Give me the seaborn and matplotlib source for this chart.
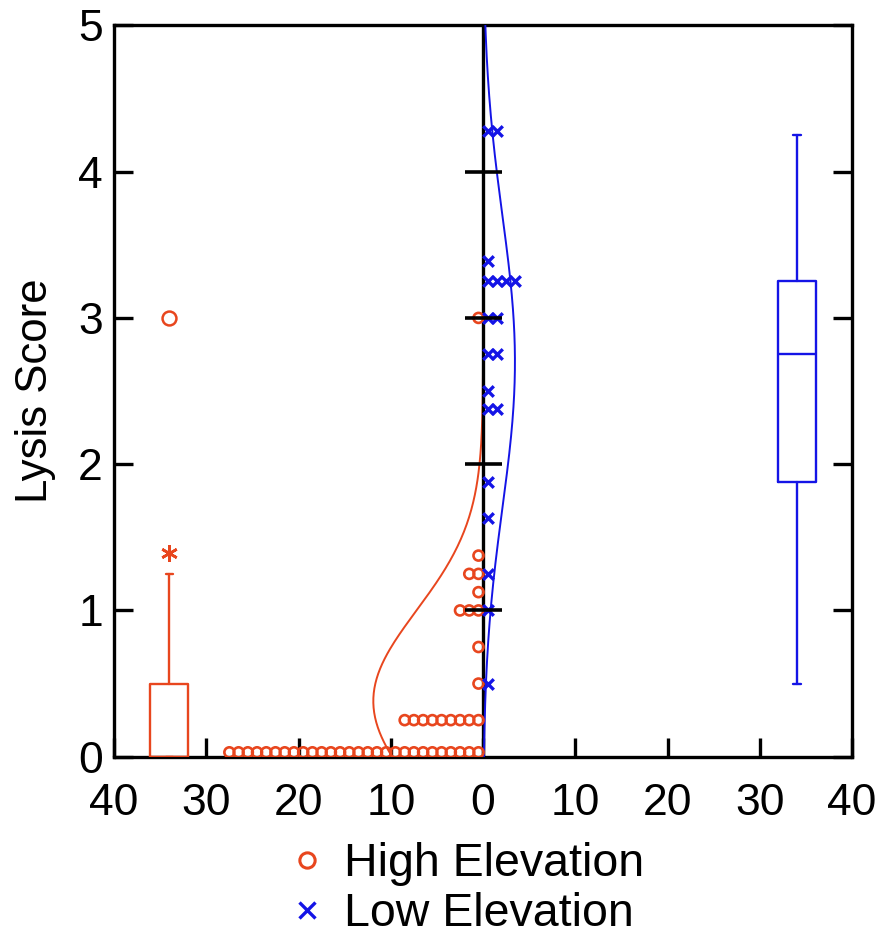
import numpy as np
import pandas as pd
import matplotlib
matplotlib.use("Agg")
import matplotlib.pyplot as plt
from matplotlib.lines import Line2D
import seaborn as sns

# dot plot rows (lysis score level, number of trees at that level)
high_levels = [0.03, 0.25, 0.5, 0.75, 1.0, 1.125, 1.25, 1.375, 3.0]
high_counts = [28, 9, 1, 1, 3, 1, 2, 1, 1]
low_levels = [0.5, 1.0, 1.25, 1.63, 1.88, 2.38, 2.5, 2.75, 3.0, 3.25, 3.39, 4.28]
low_counts = [1, 1, 1, 1, 1, 2, 1, 2, 2, 4, 1, 2]

# fitted normal curves (mean, sd, peak height in counts)
high_fit = [0.38, 0.62, 11.9]
low_fit = [2.7, 1.0, 3.45]

# box plot summaries (whislo, q1, med, q3, whishi)
high_box = [0.0, 0.0, 0.0, 0.5, 1.25]
low_box = [0.5, 1.88, 2.75, 3.25, 4.25]
high_outlier = 1.39      # asterisk
high_far_outlier = 3.0   # circle
box_pos = [-34, 34]

x_ticks = [-40, -30, -20, -10, 0, 10, 20, 30, 40]
y_ticks = [0, 1, 2, 3, 4, 5]

RED = "#E8461E"
BLUE = "#1414E6"

sns.set_style("white")
plt.rcParams["font.family"] = ["Liberation Sans", "DejaVu Sans"]
plt.rcParams["text.color"] = "black"
plt.rcParams["axes.labelcolor"] = "black"
plt.rcParams["xtick.color"] = "black"
plt.rcParams["ytick.color"] = "black"


def dots(levels, counts, sign):
    rows = []
    for lv, c in zip(levels, counts):
        for i in range(c):
            rows.append((sign * (i + 0.5), lv))
    return pd.DataFrame(rows, columns=["x", "y"])


hi = dots(high_levels, high_counts, -1)
lo = dots(low_levels, low_counts, 1)

fig = plt.figure(figsize=(8.84, 9.40), dpi=100)
ax = fig.add_axes([0.129, 0.195, 0.835, 0.778])

ax.axvline(0, color="black", lw=2.4, zorder=2.5)

# normal curves (red sits under the zero line, blue over it)
yy = np.linspace(0, 5, 300)
for fit, sign, col, z in [(high_fit, -1, RED, 2), (low_fit, 1, BLUE, 3)]:
    m, s, pk = fit
    xx = sign * pk * np.exp(-(yy - m) ** 2 / (2 * s ** 2))
    sns.lineplot(x=xx, y=yy, sort=False, estimator=None, color=col, lw=1.4, ax=ax, zorder=z)

sns.scatterplot(data=hi, x="x", y="y", marker="o", facecolor="none", edgecolor=RED,
                s=52, linewidth=1.9, ax=ax, zorder=4)
sns.scatterplot(data=lo, x="x", y="y", marker="x", color=BLUE,
                s=58, linewidth=2.4, ax=ax, zorder=4)

# center ticks on the zero line
ax.hlines(y_ticks[1:-1], -2.0, 2.0, color="black", lw=2.6, zorder=5)

# box plots
keys = ["whislo", "q1", "med", "q3", "whishi"]
for stats, pos, col in [(high_box, box_pos[0], RED), (low_box, box_pos[1], BLUE)]:
    st = dict(zip(keys, stats))
    ax.bxp([st], positions=[pos], widths=4.1, showfliers=False, capwidths=0.8,
           boxprops=dict(color=col, lw=1.7), medianprops=dict(color=col, lw=1.7),
           whiskerprops=dict(color=col, lw=1.7), capprops=dict(color=col, lw=1.7),
           manage_ticks=False, zorder=4)
ax.plot([box_pos[0]], [high_outlier], marker=(6, 2, 0), color=RED, ms=12, mew=1.9, ls="none")
ax.plot([box_pos[0]], [high_far_outlier], marker="o", mfc="none", mec=RED, ms=10, mew=1.8, ls="none")

ax.set_xlim(-40, 40)
ax.set_ylim(0, 5)
ax.set_xticks(x_ticks)
ax.set_xticklabels([str(abs(t)) for t in x_ticks])
ax.set_yticks(y_ticks)
ax.tick_params(direction="in", length=14, width=2.4, labelsize=32,
               left=True, bottom=True, right=True, top=False)
ax.tick_params(axis="x", pad=19)
ax.tick_params(axis="y", pad=8)
ax.set_xlabel("")
ax.set_ylabel("Lysis Score", fontsize=31.5, labelpad=16)
for sp in ax.spines.values():
    sp.set_color("black")
    sp.set_linewidth(2.4)

handles = [
    Line2D([], [], marker="o", mfc="none", mec=RED, mew=2.2, ms=11, ls="none"),
    Line2D([], [], marker="x", color=BLUE, mew=2.4, ms=11, ls="none"),
]
fig.legend(handles, ["High Elevation", "Low Elevation"], loc="center",
           bbox_to_anchor=(0.525, 0.054), frameon=False, fontsize=33.5,
           handletextpad=0.3, labelspacing=0.12, handlelength=1.0, borderpad=0.1)

fig.savefig("out.png", dpi=100)
